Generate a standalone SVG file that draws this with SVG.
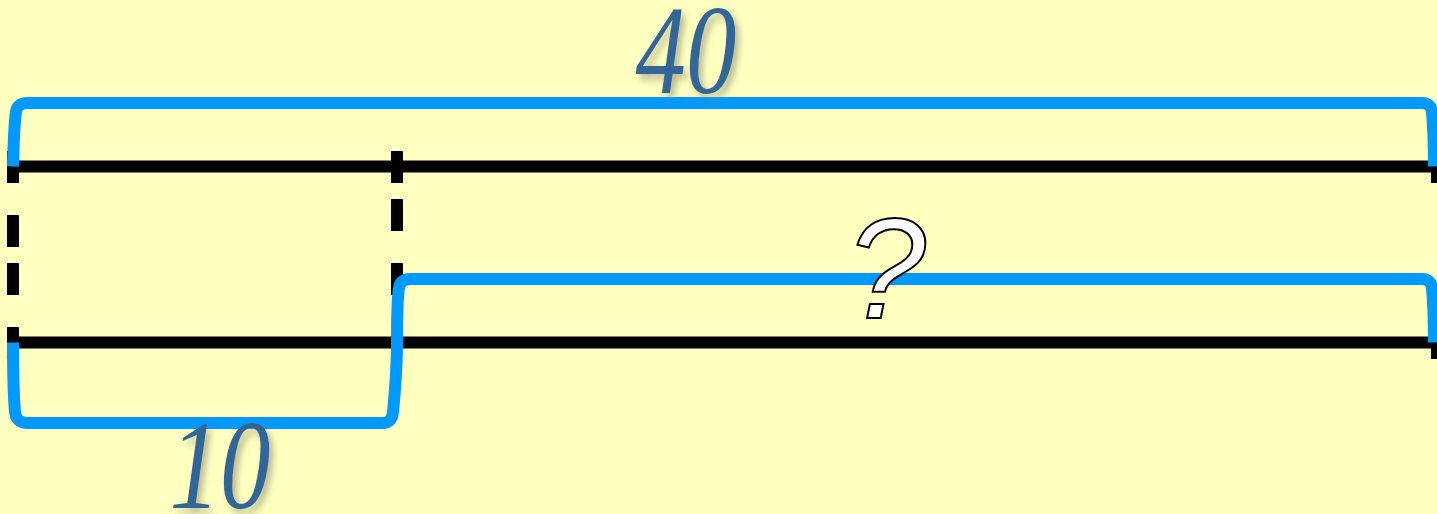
<svg xmlns="http://www.w3.org/2000/svg" width="1437" height="514" viewBox="0 0 1437 514">
<defs>
<filter id="sh" x="-20%" y="-20%" width="150%" height="150%">
<feGaussianBlur in="SourceAlpha" stdDeviation="4"/>
<feOffset dx="5" dy="5" result="b"/>
<feFlood flood-color="#8a8a70" flood-opacity="0.6"/>
<feComposite in2="b" operator="in"/>
<feMerge><feMergeNode/><feMergeNode in="SourceGraphic"/></feMerge>
</filter>
</defs>
<style>
.bk{stroke:#000;stroke-width:12;fill:none}
.bl{stroke:#0099ff;stroke-width:12;fill:none;stroke-linejoin:round}
.num{font-family:"Liberation Serif",serif;font-style:italic;fill:#336699;font-size:126px}
.q{font-family:"Liberation Sans",sans-serif;font-style:italic;fill:#fff;stroke:#000;stroke-width:2;font-size:143px}
</style>
<rect width="1437" height="514" fill="#ffffc0"/>
<g id="lines">
<line class="bk" x1="7" y1="166.5" x2="1437" y2="166.5"/>
<line class="bk" x1="7" y1="342.5" x2="1437" y2="342.5"/>
<line class="bk" x1="13" y1="151" x2="13" y2="359" stroke-dasharray="32 32 32 16 32 32 32"/>
<line class="bk" x1="397" y1="151" x2="397" y2="295" stroke-dasharray="32 16 32 32 32"/>
<line class="bk" x1="1437" y1="161" x2="1437" y2="183"/>
<line class="bk" x1="1437" y1="337" x2="1437" y2="359"/>
</g>
<g id="brackets">
<path class="bl" d="M13,166.5 Q14,125 16,112 Q17,103 28,103 L1422,103 Q1431,103 1432,112 Q1434,135 1434,166.5"/>
<path class="bl" d="M13,342.5 Q13,390 15,412 Q16,423 28,423 L383,423 Q392,423 393,412 Q397,370 397,342.5 Q397,300 399,288 Q400,279 411,279 L1422,279 Q1431,279 1432,288 Q1434,310 1434,342.5"/>
</g>
<g id="labels">
<text class="num" x="686" y="93" text-anchor="middle" filter="url(#sh)" transform="translate(686 0) scale(0.8 1) translate(-686 0)">40</text>
<text class="num" x="220" y="508" text-anchor="middle" filter="url(#sh)" transform="translate(220 0) scale(0.8 1) translate(-220 0)">10</text>
<text class="q" x="886" y="318" text-anchor="middle">?</text>
</g>
</svg>
